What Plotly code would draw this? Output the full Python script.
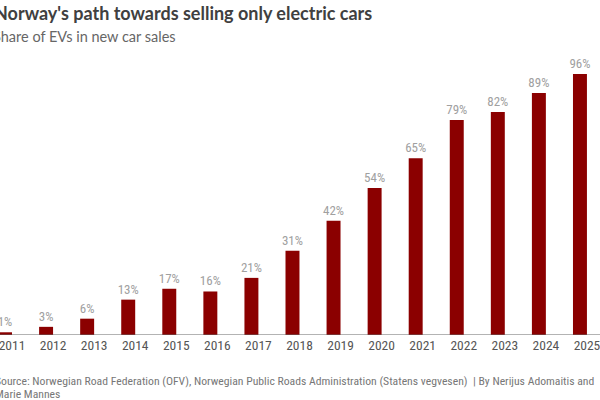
import plotly.graph_objects as go

years = [2011, 2012, 2013, 2014, 2015, 2016, 2017, 2018, 2019, 2020, 2021, 2022, 2023, 2024, 2025]
ev_share = [1, 3, 6, 13, 17, 16, 21, 31, 42, 54, 65, 79, 82, 89, 96]
labels = [f"{v}%" for v in ev_share]
tick_labels = [str(y) for y in years]

title = "Norway's path towards selling only electric cars"
subtitle = "Share of EVs in new car sales"
source_line1 = "Source: Norwegian Road Federation (OFV), Norwegian Public Roads Administration (Statens vegvesen)  | By Nerijus Adomaitis and"
source_line2 = "Marie Mannes"

FONT = "Lato"
NARROW = "Roboto Condensed"
BAR = "#8b0000"

fig = go.Figure(go.Bar(
    x=years, y=ev_share, text=labels, textposition="outside",
    textfont=dict(color="#a0a0a0", size=13, family=NARROW),
    marker=dict(color=BAR, line=dict(width=0)),
    width=0.34, cliponaxis=False, constraintext="none",
))

src_font = dict(size=11.7, color="#777777", family=NARROW)

fig.update_layout(
    width=600, height=400,
    margin=dict(l=0, r=0, t=63, b=65, autoexpand=False),
    paper_bgcolor="white", plot_bgcolor="white",
    showlegend=False,
    font=dict(family=FONT),
    xaxis=dict(range=[2010.878, 2025.488], tickmode="array", tickvals=years, ticktext=tick_labels,
               showgrid=False, zeroline=False, showline=False, ticks="", automargin=False,
               ticklabeloverflow="allow", ticklabelshift=7,
               tickfont=dict(size=13.5, color="#555555", family=NARROW)),
    yaxis=dict(range=[0, 100], visible=False, showgrid=False, zeroline=False, automargin=False),
    annotations=[
        dict(text=f"<b>{title}</b>", xref="paper", yref="paper", x=-0.013, y=1.0, yshift=63,
             xanchor="left", yanchor="top", showarrow=False, font=dict(size=18, color="#404040", family=FONT)),
        dict(text=subtitle, xref="paper", yref="paper", x=-0.015, y=1.0, yshift=37,
             xanchor="left", yanchor="top", showarrow=False, font=dict(size=14.5, color="#666666", family=FONT)),
        dict(text=source_line1, xref="paper", yref="paper", x=-0.0117, y=0, yshift=-46,
             xanchor="left", yanchor="middle", showarrow=False, font=src_font),
        dict(text=source_line2, xref="paper", yref="paper", x=-0.0117, y=0, yshift=-59,
             xanchor="left", yanchor="middle", showarrow=False, font=src_font),
    ],
    shapes=[dict(type="line", xref="paper", yref="y", x0=0, x1=1, y0=0, y1=0,
                 line=dict(color="#666666", width=1))],
)

fig.write_html("out.html", config={"displayModeBar": False},
               post_script="document.body.style.margin='0'")
